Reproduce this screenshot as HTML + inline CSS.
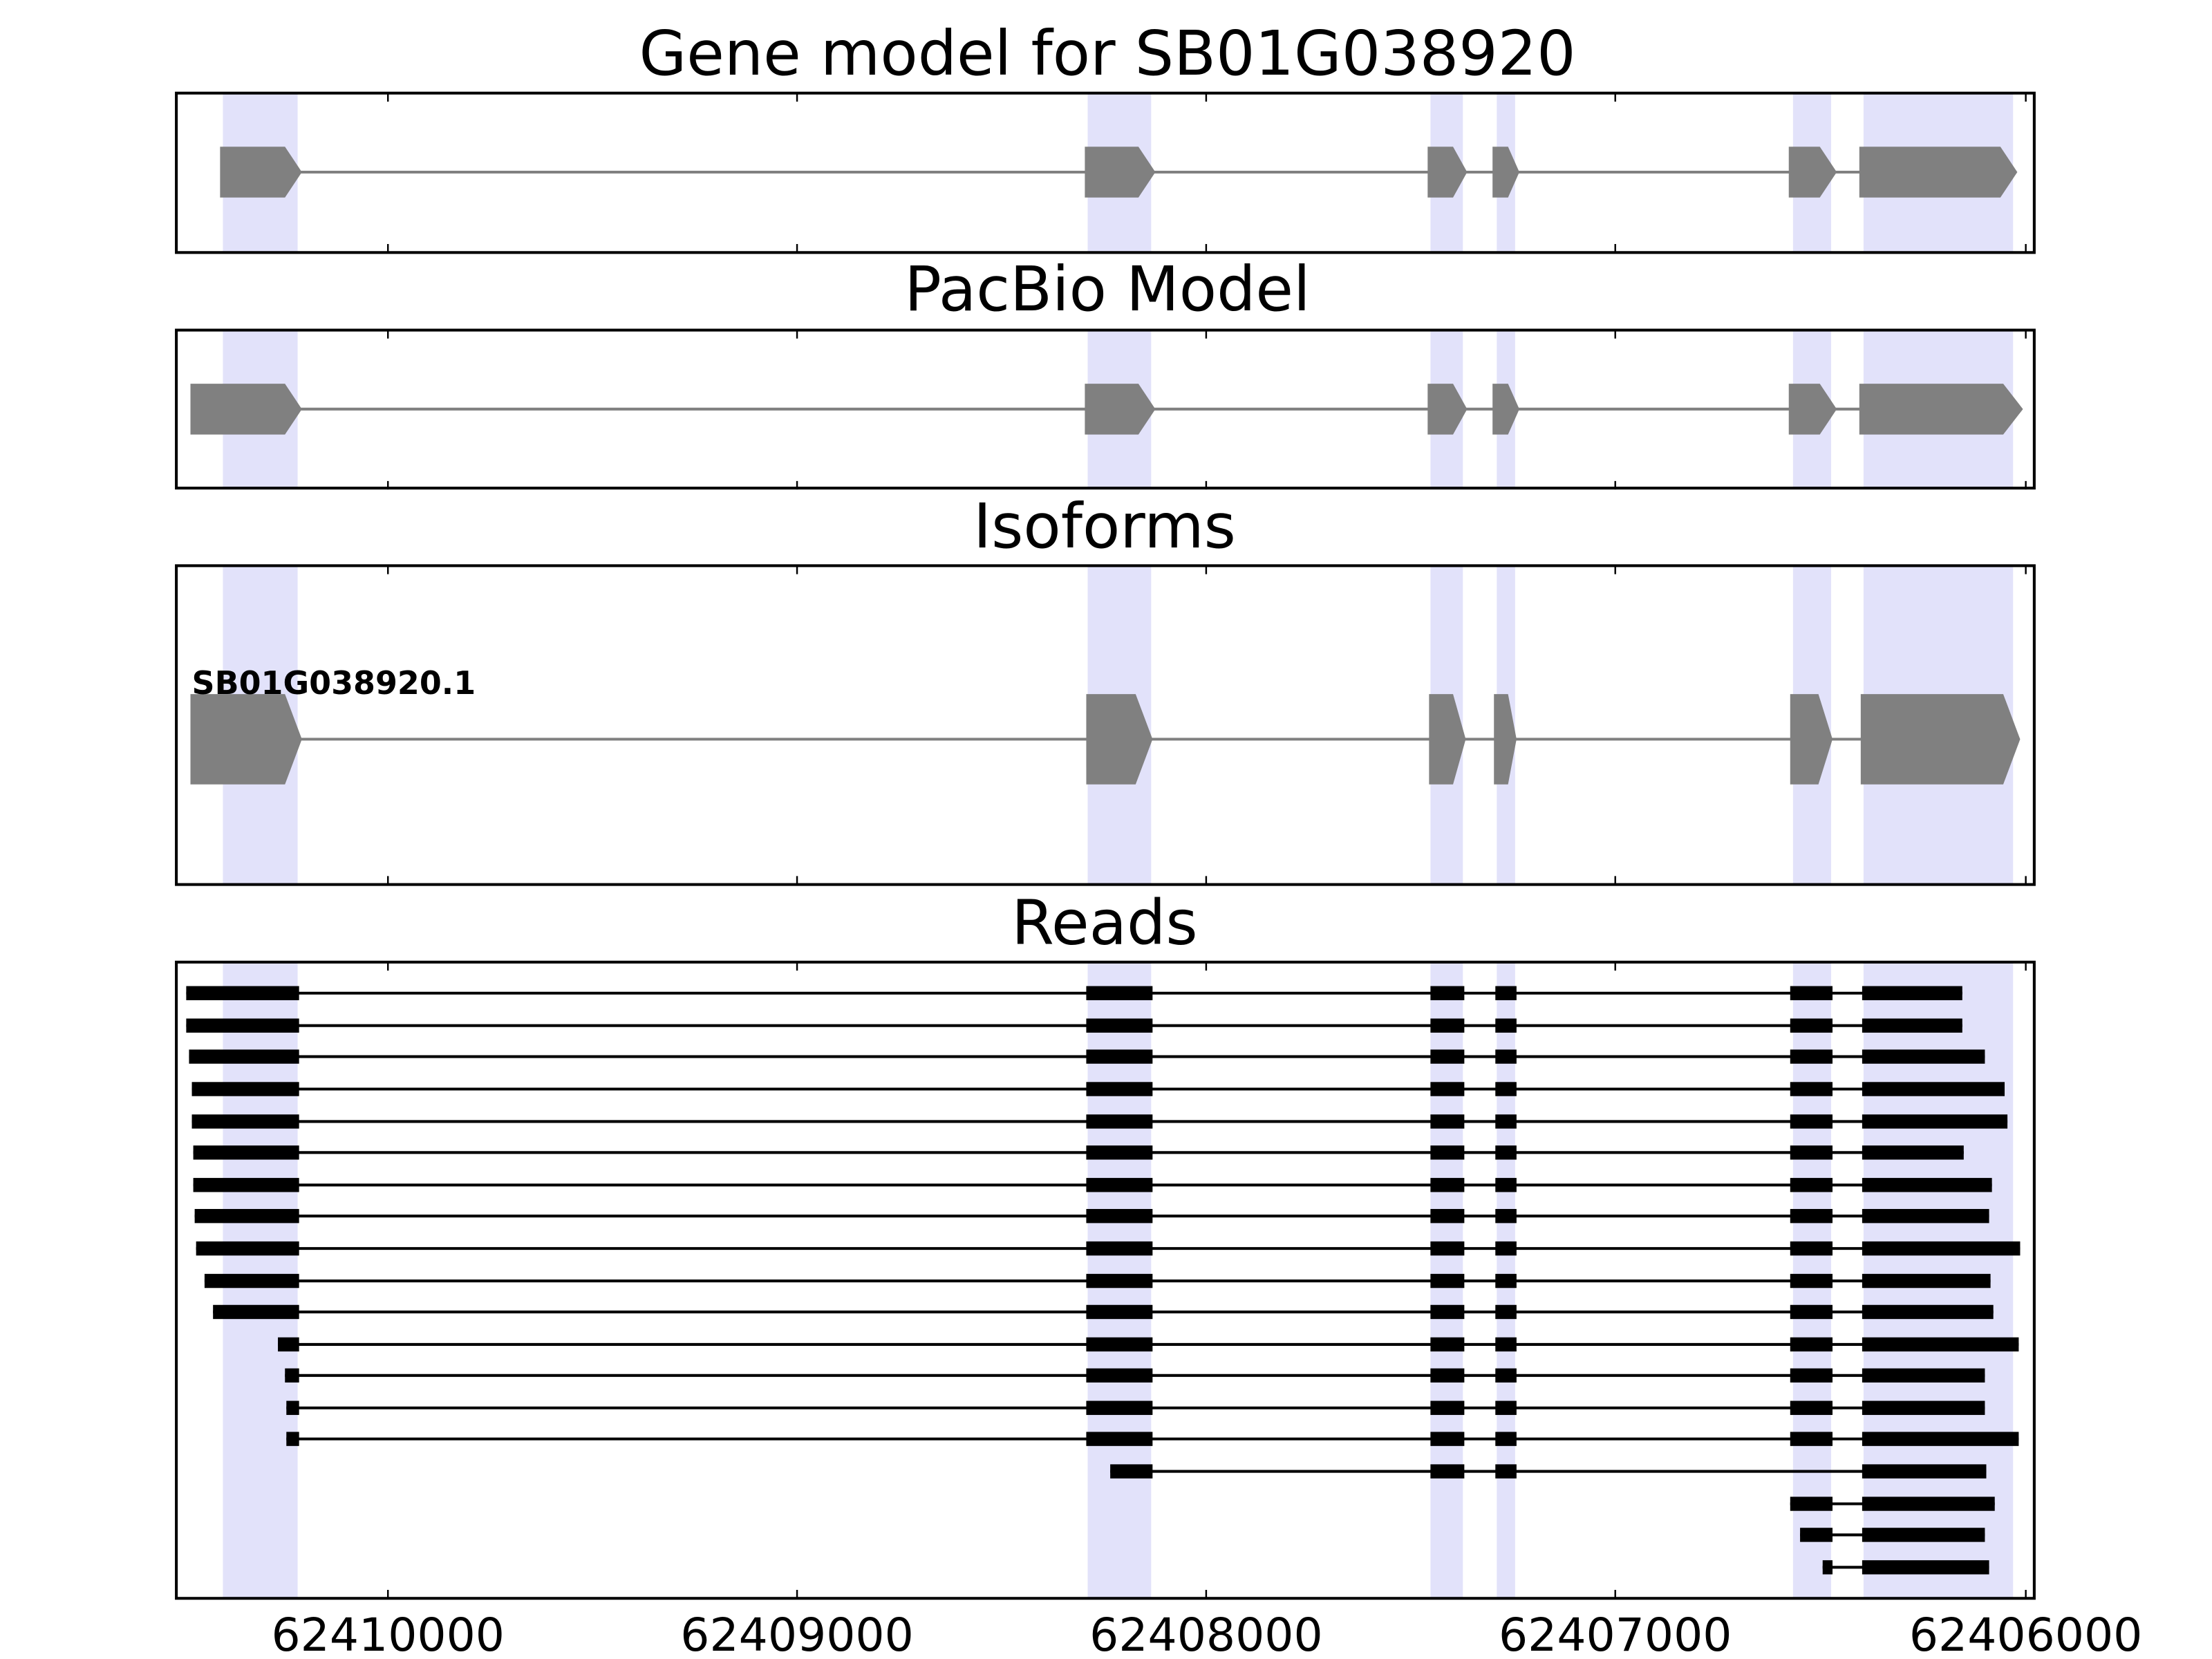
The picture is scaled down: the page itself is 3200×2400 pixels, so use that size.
<!DOCTYPE html>
<html><head><meta charset="utf-8"><style>html,body{margin:0;padding:0;background:#fff;width:3200px;height:2400px;overflow:hidden}svg{display:block}</style></head>
<body>
<svg width="3200" height="2400" viewBox="0 0 1568 1176" xmlns="http://www.w3.org/2000/svg" font-family="'DejaVu Sans','Liberation Sans',sans-serif">
<rect width="1568" height="1176" fill="#fff"/>
<defs>
<g id="shade">
<rect x="158" width="53" height="1000" fill="#e2e2fa"/>
<rect x="771" width="45" height="1000" fill="#e2e2fa"/>
<rect x="1014" width="23" height="1000" fill="#e2e2fa"/>
<rect x="1061" width="13" height="1000" fill="#e2e2fa"/>
<rect x="1271" width="27" height="1000" fill="#e2e2fa"/>
<rect x="1321" width="106" height="1000" fill="#e2e2fa"/>
</g>
</defs>
<g font-size="43.5" text-anchor="middle" fill="#000">
<text x="785" y="53">Gene model for SB01G038920</text>
<text x="785" y="220">PacBio Model</text>
<text x="783" y="388">Isoforms</text>
<text x="783" y="669">Reads</text>
</g>
<svg x="0" y="66" width="1568" height="113" overflow="hidden"><use href="#shade"/></svg>
<g fill="#808080">
<line x1="210" y1="122" x2="1320" y2="122" stroke="#808080" stroke-width="2"/>
<polygon points="156,104 202,104 214,122 202,140 156,140"/>
<polygon points="769,104 807,104 819,122 807,140 769,140"/>
<polygon points="1012,104 1030,104 1040,122 1030,140 1012,140"/>
<polygon points="1058,104 1069,104 1077,122 1069,140 1058,140"/>
<polygon points="1268,104 1290,104 1302,122 1290,140 1268,140"/>
<polygon points="1318,104 1418,104 1430,122 1418,140 1318,140"/>
</g>
<svg x="0" y="234" width="1568" height="112" overflow="hidden"><use href="#shade"/></svg>
<g fill="#808080">
<line x1="210" y1="290" x2="1320" y2="290" stroke="#808080" stroke-width="2"/>
<polygon points="135,272 202,272 214,290 202,308 135,308"/>
<polygon points="769,272 807,272 819,290 807,308 769,308"/>
<polygon points="1012,272 1030,272 1040,290 1030,308 1012,308"/>
<polygon points="1058,272 1069,272 1077,290 1069,308 1058,308"/>
<polygon points="1268,272 1290,272 1302,290 1290,308 1268,308"/>
<polygon points="1318,272 1420,272 1434,290 1420,308 1318,308"/>
</g>
<svg x="0" y="401" width="1568" height="226" overflow="hidden"><use href="#shade"/></svg>
<g fill="#808080">
<line x1="210" y1="524" x2="1320" y2="524" stroke="#808080" stroke-width="2"/>
<polygon points="135,492 202,492 214,524 202,556 135,556"/>
<polygon points="770,492 805,492 817,524 805,556 770,556"/>
<polygon points="1013,492 1030,492 1039,524 1030,556 1013,556"/>
<polygon points="1059,492 1069,492 1075,524 1069,556 1059,556"/>
<polygon points="1269,492 1289,492 1299,524 1289,556 1269,556"/>
<polygon points="1319,492 1420,492 1432,524 1420,556 1319,556"/>
</g>
<text x="136" y="492" font-size="22.5" font-weight="bold">SB01G038920.1</text>
<svg x="0" y="682" width="1568" height="451" overflow="hidden"><use href="#shade"/></svg>
<g fill="#000" stroke="#000">
<g stroke-width="2">
<line x1="132" y1="704" x2="1391" y2="704"/><line x1="132" y1="727" x2="1391" y2="727"/>
<line x1="134" y1="749" x2="1407" y2="749"/><line x1="136" y1="772" x2="1421" y2="772"/>
<line x1="136" y1="795" x2="1423" y2="795"/><line x1="137" y1="817" x2="1392" y2="817"/>
<line x1="137" y1="840" x2="1412" y2="840"/><line x1="138" y1="862" x2="1410" y2="862"/>
<line x1="139" y1="885" x2="1432" y2="885"/><line x1="145" y1="908" x2="1411" y2="908"/>
<line x1="151" y1="930" x2="1413" y2="930"/><line x1="197" y1="953" x2="1431" y2="953"/>
<line x1="202" y1="975" x2="1407" y2="975"/><line x1="203" y1="998" x2="1407" y2="998"/>
<line x1="203" y1="1020" x2="1431" y2="1020"/><line x1="787" y1="1043" x2="1408" y2="1043"/>
<line x1="1269" y1="1066" x2="1414" y2="1066"/><line x1="1276" y1="1088" x2="1407" y2="1088"/>
<line x1="1292" y1="1111" x2="1410" y2="1111"/>
</g>
<g stroke="none">
<rect x="132" y="699" width="80" height="10"/><rect x="1320" y="699" width="71" height="10"/>
<rect x="132" y="722" width="80" height="10"/><rect x="1320" y="722" width="71" height="10"/>
<rect x="134" y="744" width="78" height="10"/><rect x="1320" y="744" width="87" height="10"/>
<rect x="136" y="767" width="76" height="10"/><rect x="1320" y="767" width="101" height="10"/>
<rect x="136" y="790" width="76" height="10"/><rect x="1320" y="790" width="103" height="10"/>
<rect x="137" y="812" width="75" height="10"/><rect x="1320" y="812" width="72" height="10"/>
<rect x="137" y="835" width="75" height="10"/><rect x="1320" y="835" width="92" height="10"/>
<rect x="138" y="857" width="74" height="10"/><rect x="1320" y="857" width="90" height="10"/>
<rect x="139" y="880" width="73" height="10"/><rect x="1320" y="880" width="112" height="10"/>
<rect x="145" y="903" width="67" height="10"/><rect x="1320" y="903" width="91" height="10"/>
<rect x="151" y="925" width="61" height="10"/><rect x="1320" y="925" width="93" height="10"/>
<rect x="197" y="948" width="15" height="10"/><rect x="1320" y="948" width="111" height="10"/>
<rect x="202" y="970" width="10" height="10"/><rect x="1320" y="970" width="87" height="10"/>
<rect x="203" y="993" width="9" height="10"/><rect x="1320" y="993" width="87" height="10"/>
<rect x="203" y="1015" width="9" height="10"/><rect x="1320" y="1015" width="111" height="10"/>
<rect x="787" y="1038" width="30" height="10"/><rect x="1320" y="1038" width="88" height="10"/>
<rect x="1269" y="1061" width="30" height="10"/><rect x="1320" y="1061" width="94" height="10"/>
<rect x="1276" y="1083" width="23" height="10"/><rect x="1320" y="1083" width="87" height="10"/>
<rect x="1292" y="1106" width="7" height="10"/><rect x="1320" y="1106" width="90" height="10"/>
</g>
<g stroke="none" id="mid">
<rect x="770" y="699" width="47" height="10"/><rect x="1014" y="699" width="24" height="10"/><rect x="1060" y="699" width="15" height="10"/><rect x="1269" y="699" width="30" height="10"/>
</g>
<use href="#mid" y="23"/><use href="#mid" y="45"/><use href="#mid" y="68"/><use href="#mid" y="91"/>
<use href="#mid" y="113"/><use href="#mid" y="136"/><use href="#mid" y="158"/><use href="#mid" y="181"/>
<use href="#mid" y="204"/><use href="#mid" y="226"/><use href="#mid" y="249"/><use href="#mid" y="271"/>
<use href="#mid" y="294"/><use href="#mid" y="316"/>
<g stroke="none"><rect x="1014" y="1038" width="24" height="10"/><rect x="1060" y="1038" width="15" height="10"/></g>
</g>
<g fill="none" stroke="#000" stroke-width="2">
<rect x="125" y="66" width="1317" height="113"/>
<rect x="125" y="234" width="1317" height="112"/>
<rect x="125" y="401" width="1317" height="226"/>
<rect x="125" y="682" width="1317" height="451"/>
</g>
<g stroke="#000" stroke-width="1.2" id="ticks">
<path d="M275,66v6M565,66v6M855,66v6M1145,66v6M1436,66v6M275,179v-6M565,179v-6M855,179v-6M1145,179v-6M1436,179v-6"/>
</g>
<use href="#ticks" y="168"/>
<g stroke="#000" stroke-width="1.2">
<path d="M275,401v6M565,401v6M855,401v6M1145,401v6M1436,401v6M275,627v-6M565,627v-6M855,627v-6M1145,627v-6M1436,627v-6"/>
<path d="M275,682v6M565,682v6M855,682v6M1145,682v6M1436,682v6M275,1133v-6M565,1133v-6M855,1133v-6M1145,1133v-6M1436,1133v-6"/>
</g>
<g font-size="32.5" text-anchor="middle" fill="#000">
<text x="275" y="1170">62410000</text>
<text x="565" y="1170">62409000</text>
<text x="855" y="1170">62408000</text>
<text x="1145" y="1170">62407000</text>
<text x="1436" y="1170">62406000</text>
</g>
</svg>
</body></html>
